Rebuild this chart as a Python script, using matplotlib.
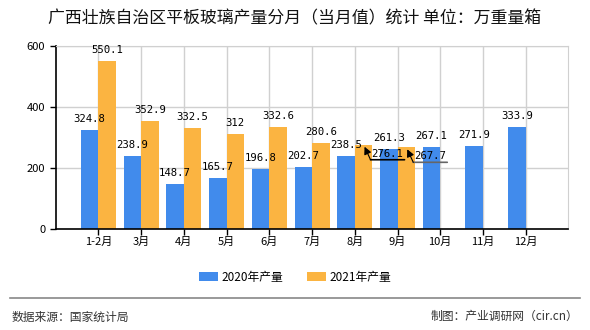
import numpy as np
import matplotlib.pyplot as plt
from matplotlib.transforms import offset_copy
from matplotlib.lines import Line2D

plt.rcParams['font.family'] = ['Noto Sans CJK SC', 'DejaVu Sans']

title = '广西壮族自治区平板玻璃产量分月（当月值）统计 单位：万重量箱'
months = ['1-2月', '3月', '4月', '5月', '6月', '7月', '8月', '9月', '10月', '11月', '12月']
prod_2020 = [324.8, 238.9, 148.7, 165.7, 196.8, 202.7, 238.5, 261.3, 267.1, 271.9, 333.9]
prod_2021 = [550.1, 352.9, 332.5, 312, 332.6, 280.6, 276.1, 267.7]
labels_2020 = ['324.8', '238.9', '148.7', '165.7', '196.8', '202.7', '238.5', '261.3', '267.1', '271.9', '333.9']
labels_2021 = ['550.1', '352.9', '332.5', '312', '332.6', '280.6', '276.1', '267.7']
moved_2021 = [6, 7]  # labels drawn off to the side with an arrow
series_names = ['2020年产量', '2021年产量']
source = '数据来源：国家统计局'
maker = '制图：产业调研网（cir.cn）'

blue = '#418BEC'
orange = '#FBB441'
w = 0.41

fig = plt.figure(figsize=(5.9, 3.3), dpi=100)
ax = fig.add_axes([0.0944, 0.306, 0.869, 0.555])

x = np.arange(1, len(months) + 1)
x21 = x[:len(prod_2021)]
b1 = ax.bar(x - w / 2, prod_2020, width=w, color=blue, label=series_names[0], zorder=2)
b2 = ax.bar(x21 + w / 2, prod_2021, width=w, color=orange, label=series_names[1], zorder=2)

ax.set_xlim(0, 12)
ax.set_ylim(0, 600)
ax.set_yticks([0, 200, 400, 600])
ax.set_xticks(x)
ax.set_xticklabels(months)
ax.tick_params(axis='both', labelsize=8, length=4, width=1, color='black')
ax.tick_params(axis='x', pad=2)
ax.grid(True, color='#d0d0d0', linewidth=1, zorder=0)
ax.set_axisbelow(True)
for s in ['top', 'right']:
    ax.spines[s].set_color('#d0d0d0')
for s in ['left', 'bottom']:
    ax.spines[s].set_color('black')
    ax.spines[s].set_linewidth(1.2)

lab_font = dict(family='DejaVu Sans Mono', fontsize=7.7, color='black')
for xi, v, t in zip(x - w / 2, prod_2020, labels_2020):
    ax.annotate(t, (xi, v), xytext=(0, 6), textcoords='offset pixels',
                ha='center', va='bottom', **lab_font)
for i, (xi, v, t) in enumerate(zip(x21 + w / 2, prod_2021, labels_2021)):
    if i in moved_2021:
        lc = 'black' if i == moved_2021[0] else '#666666'
        p0 = offset_copy(ax.transData, fig=fig, x=7, y=-15, units='dots')
        p1 = offset_copy(ax.transData, fig=fig, x=41, y=-15, units='dots')
        ax.annotate('', xy=(xi, v), xycoords=p1, xytext=(xi, v), textcoords=p0,
                    arrowprops=dict(arrowstyle='-', color=lc, lw=1.2, shrinkA=0, shrinkB=0))
        ax.annotate('', xy=(xi, v), xycoords=offset_copy(ax.transData, fig=fig, x=1, y=-2, units='dots'),
                    xytext=(xi, v), textcoords=p0,
                    arrowprops=dict(arrowstyle='-|>', color='black', lw=0.8,
                                    mutation_scale=11, shrinkA=0, shrinkB=0))
        ax.annotate(t, (xi, v), xytext=(8, -14), textcoords='offset pixels',
                    ha='left', va='bottom', **lab_font)
    else:
        ax.annotate(t, (xi, v), xytext=(0, 6), textcoords='offset pixels',
                    ha='center', va='bottom', **lab_font)

fig.text(0.5, 0.945, title, ha='center', va='center', fontsize=12.2, color='#111111')

fig.legend(handles=[b1, b2], loc='center', bbox_to_anchor=(0.5, 0.16), ncol=2,
           frameon=False, fontsize=8.5, handlelength=1.6, handleheight=0.7,
           columnspacing=2.0, handletextpad=0.3)

fig.add_artist(Line2D([0.017, 0.983], [0.097, 0.097], color='#888888', lw=1.2,
                      transform=fig.transFigure))
fig.text(0.02, 0.04, source, ha='left', va='center', fontsize=8.5, color='#333333')
fig.text(0.98, 0.04, maker, ha='right', va='center', fontsize=8.5, color='#333333')

fig.savefig('out.png', dpi=100)
